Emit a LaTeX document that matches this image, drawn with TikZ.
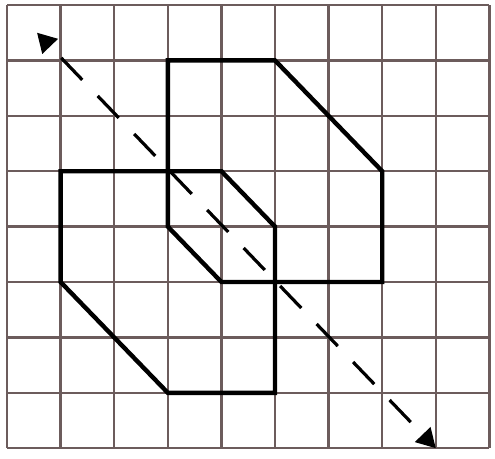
\documentclass[tikz,border=0pt]{standalone}
\usetikzlibrary{arrows.meta}
\definecolor{gridcol}{RGB}{108,92,92}
\begin{document}
\begin{tikzpicture}[x=53.6pt,y=-55.4pt,
  gridline/.style={draw=gridcol,line width=2.4pt},
  outline/.style={draw=black,line width=4.4pt,line join=miter},
  dasharrow/.style={draw=black,line width=3.2pt,dash pattern=on 30.5pt off 22.2pt,dash phase=36pt,{Triangle[length=19pt,width=21pt]}-{Triangle[length=19pt,width=21pt]}}]
\useasboundingbox (-7pt,5pt) rectangle (488pt,-453pt);
\foreach \i in {0,...,9} \draw[gridline] (\i,0) -- (\i,8);
\foreach \j in {0,...,8} \draw[gridline] (0,\j) -- (9,\j);
\draw[outline] (3,1) -- (5,1) -- (7,3) -- (7,5) -- (4,5) -- (3,4) -- cycle;
\draw[outline] (1,3) -- (4,3) -- (5,4) -- (5,7) -- (3,7) -- (1,5) -- cycle;
\coordinate (a) at (0.56,0.5);
\coordinate (b) at (8,8);
\draw[dasharrow] (a) -- (b);
\end{tikzpicture}
\end{document}
